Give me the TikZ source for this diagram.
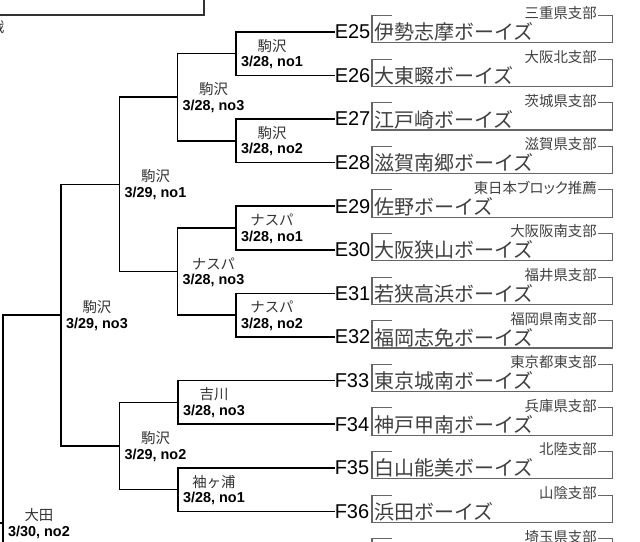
\documentclass[tikz,border=0pt]{standalone}
\usepackage{fontspec}
\setmainfont{Liberation Sans}
\newfontfamily\jpfont{Noto Sans CJK JP}
\newfontfamily\jpprop[RawFeature=+palt]{Noto Sans CJK JP}
\newcommand\mtch[5]{%
  \node[venue] (v#1) at (#2,#3-8) {#4};
  \node[mdate] (d#1) at (#2,#3+9) {#5};}
\begin{document}
\begin{tikzpicture}[x=0.75pt,y=-0.75pt,
  bline/.style={black,line width=1.1pt,line cap=rect},
  bxline/.style={draw=black!60,line width=0.8pt},
  team/.style={anchor=west,inner sep=0pt,font=\jpfont\fontsize{15}{18}\selectfont,text=black!75},
  seed/.style={anchor=west,inner sep=0pt,font=\fontsize{15}{18}\selectfont},
  branch/.style={anchor=east,inner sep=0pt,font=\jpprop\fontsize{10.8}{12}\selectfont,text=black!75},
  venue/.style={inner sep=0pt,font=\jpfont\fontsize{10.8}{12}\selectfont,text=black!80},
  mdate/.style={inner sep=0pt,font=\bfseries\fontsize{10.8}{12}\selectfont},
]
\useasboundingbox (0,0) rectangle (640,542);

% top-left fragment
\draw[black!80,line width=0.8pt] (-3,15) -- (204,15) -- (204,-3);
\node[venue,anchor=east] (cut) at (4.5,27) {戦};

% team rows
\foreach \i/\sd/\tm/\br in {
  0/E25/伊勢志摩ボーイズ/三重県支部,
  1/E26/大東畷ボーイズ/大阪北支部,
  2/E27/江戸崎ボーイズ/茨城県支部,
  3/E28/滋賀南郷ボーイズ/滋賀県支部,
  4/E29/佐野ボーイズ/東日本ブロック推薦,
  5/E30/大阪狭山ボーイズ/大阪阪南支部,
  6/E31/若狭高浜ボーイズ/福井県支部,
  7/E32/福岡志免ボーイズ/福岡県南支部,
  8/F33/東京城南ボーイズ/東京都東支部,
  9/F34/神戸甲南ボーイズ/兵庫県支部,
  10/F35/白山能美ボーイズ/北陸支部,
  11/F36/浜田ボーイズ/山陰支部}{
  \pgfmathsetmacro\yy{31.8+43.6*\i}
  \pgfmathsetmacro\tp{\yy-16.3}
  \pgfmathsetmacro\bt{\yy+11}
  \pgfmathsetmacro\xx{ifthenelse(\i<8,236,178)}
  \node[seed] (s\i) at (334.5,\yy) {\sd};
  \node[team] (t\i) at (374,\yy+0.5) {\tm};
  \node[branch] (b\i) at (597,\tp-2) {\br};
  \draw[bxline] (392,\tp) -- (372,\tp) -- (372,\bt) -- (612.7,\bt) -- (612.7,\tp) -- (598,\tp);
  \coordinate (r\i) at (\xx,\yy);
  \draw[bline] (r\i) -- (s\i.west);
}
% partial row at the bottom
\node[branch] (b12) at (597,536.7) {埼玉県支部};
\draw[bxline] (392,538.7) -- (372,538.7) -- (372,570);
\draw[bxline] (612.7,570) -- (612.7,538.7) -- (598,538.7);

% bracket junctions
\coordinate (a1) at (236,53.6);
\coordinate (a2) at (236,140.8);
\coordinate (a3) at (236,228.0);
\coordinate (a4) at (236,315.2);
\coordinate (a5) at (178,402.4);
\coordinate (a6) at (178,489.6);
\coordinate (q1) at (177.5,97.2);
\coordinate (q2) at (177.5,271.6);
\coordinate (c1) at (119.5,184.4);
\coordinate (c2) at (119.5,446.0);
\coordinate (d1) at (61,315.2);
\coordinate (e1) at (3,523.0);
\coordinate (e2) at (3,731);
\coordinate (e0) at (-6,523.0);

\draw[bline] (r0) -- (r1);
\draw[bline] (r2) -- (r3);
\draw[bline] (r4) -- (r5);
\draw[bline] (r6) -- (r7);
\draw[bline] (r8) -- (r9);
\draw[bline] (r10) -- (r11);
\draw[bline] (a1) -| (q1) |- (a2);
\draw[bline] (a3) -| (q2) |- (a4);
\draw[bline] (q1) -| (c1) |- (q2);
\draw[bline] (a5) -| (c2) |- (a6);
\draw[bline] (c1) -| (d1) |- (c2);
\draw[bline] (d1) -| (e1) -- (e2);
\draw[bline] (e1) -- (e0);

% match labels
\mtch{a1}{272}{53.6}{駒沢}{3/28, no1}
\mtch{a2}{272}{140.8}{駒沢}{3/28, no2}
\mtch{a3}{272}{228.0}{ナスパ}{3/28, no1}
\mtch{a4}{272}{315.2}{ナスパ}{3/28, no2}
\mtch{a5}{214}{402.4}{吉川}{3/28, no3}
\mtch{a6}{214}{489.6}{袖ヶ浦}{3/28, no1}
\mtch{q1}{213.5}{97.2}{駒沢}{3/28, no3}
\mtch{q2}{213.5}{271.6}{ナスパ}{3/28, no3}
\mtch{c1}{155.5}{184.4}{駒沢}{3/29, no1}
\mtch{c2}{155.5}{446.0}{駒沢}{3/29, no2}
\mtch{d1}{97}{315.2}{駒沢}{3/29, no3}
\mtch{e1}{39}{523.0}{大田}{3/30, no2}
\end{tikzpicture}
\end{document}
